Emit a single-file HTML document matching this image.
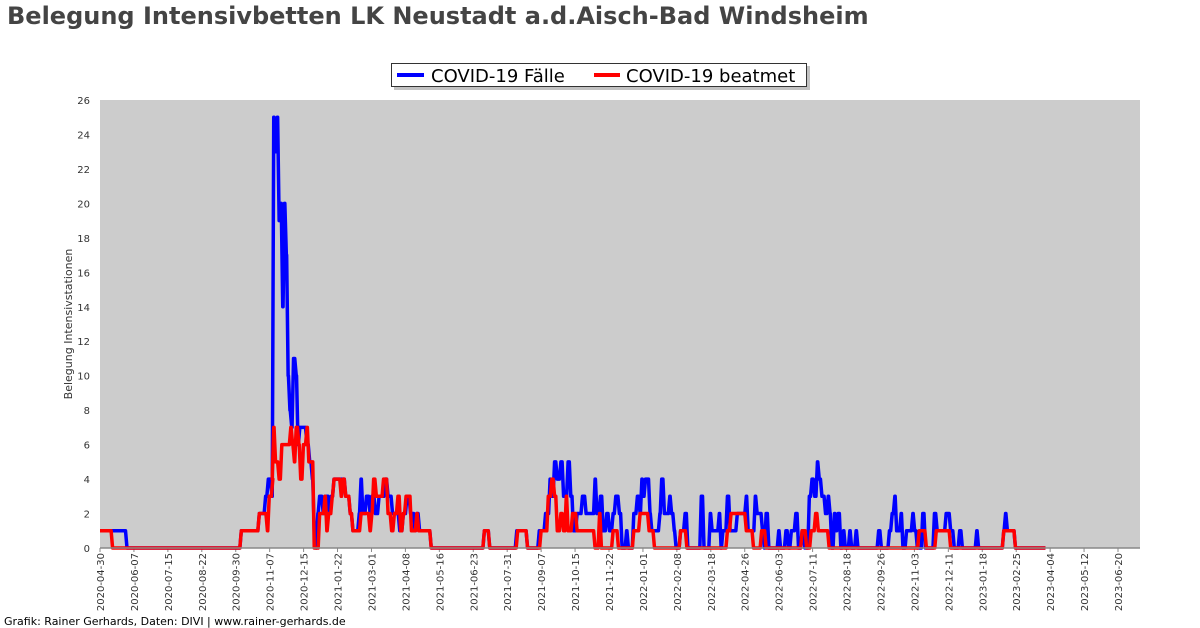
<!DOCTYPE html>
<html><head><meta charset="utf-8"><style>
body{margin:0;background:#fff;font-family:"Liberation Sans","DejaVu Sans",sans-serif}
#wrap{position:relative;width:1200px;height:628px;overflow:hidden}
</style></head><body><div id="wrap">
<svg id="chart" width="1200" height="628" xmlns="http://www.w3.org/2000/svg">
<text x="7" y="24" font-size="24" font-weight="bold" fill="#444" font-family="DejaVu Sans, Liberation Sans, sans-serif">Belegung Intensivbetten LK Neustadt a.d.Aisch-Bad Windsheim</text>
<rect x="100" y="100" width="1040" height="448" fill="#cccccc"/>
<g id="yaxis"></g>
<g id="xaxis"></g>
<g id="series"></g>
<line x1="100" y1="548" x2="1140" y2="548" stroke="#888" stroke-width="1.5"/>
<text transform="translate(72,324) rotate(-90)" text-anchor="middle" font-size="11" fill="#333" font-family="DejaVu Sans, sans-serif">Belegung Intensivstationen</text>
<g>
<rect x="394" y="66" width="416" height="24" fill="#999" opacity="0.6"/>
<rect x="391.5" y="63.5" width="415" height="23" fill="#fff" stroke="#333"/>
<line x1="397" y1="75" x2="424" y2="75" stroke="#0000ff" stroke-width="4"/>
<text x="431" y="82" font-size="18" fill="#000" font-family="DejaVu Sans, sans-serif">COVID-19 Fälle</text>
<line x1="594" y1="75" x2="620" y2="75" stroke="#ff0000" stroke-width="4"/>
<text x="626" y="82" font-size="18" fill="#000" font-family="DejaVu Sans, sans-serif">COVID-19 beatmet</text>
</g>
<text x="4" y="625" font-size="11" fill="#000" font-family="DejaVu Sans, sans-serif">Grafik: Rainer Gerhards, Daten: DIVI | www.rainer-gerhards.de</text>
</svg></div>
<script>
const tickLabels=["2020-04-30","2020-06-07","2020-07-15","2020-08-22","2020-09-30","2020-11-07","2020-12-15","2021-01-22","2021-03-01","2021-04-08","2021-05-16","2021-06-23","2021-07-31","2021-09-07","2021-10-15","2021-11-22","2022-01-01","2022-02-08","2022-03-18","2022-04-26","2022-06-03","2022-07-11","2022-08-18","2022-09-26","2022-11-03","2022-12-11","2023-01-18","2023-02-25","2023-04-04","2023-05-12","2023-06-20"];
const yTicks=[0,2,4,6,8,10,12,14,16,18,20,22,24,26];
// change points: pixel-estimated day offsets from 2020-04-30 and values
const casesPx=[100,130,257,277,284,287,291,293,295,297,299,301,303,305,307,309,311,313,315,318,320,322,326,330,333,336,338,340,342,344,348,350,355,357,360,370,373,378,381,388,390,392,396,400,402,406,410,417,420,425,433,437,441,445,450,452,455,468,527,533,563,575,588,595,600,602,605,608,612,615,620,623,626,630,636,640,645,650,652,656,659,663,666,670,673,677,680,685,687,693,697,700,702,704,706,711,713,722,724,727,733,735,738,740,745,750,753,768,771,778,780,788,790,792,797,800,808,818,820,828,830,836,838,840,843,854,856,862,865,868,873,876,880,883,888,891,894,897,899,902,906,909,911,913,916,918,920,923,926,928,933,935,940,942,965,968,977,980,983,985,990,992,996,1003,1005,1008,1014,1017,1027,1030,1040,1045,1049,1055,1058,1074,1076,1104,1106,1108,1117];
const casesVal=[1,0,1,2,3,4,3,25,23,25,19,20,14,20,17,10,8,7,11,10,6,7,7,6,5,4,1,0,2,3,2,3,2,3,4,4,3,2,1,2,4,2,3,2,3,2,3,4,3,2,1,2,3,2,1,2,1,0,1,0,1,0,1,2,4,3,5,4,5,3,5,3,1,2,3,2,2,4,2,3,1,2,1,2,3,2,0,1,0,2,3,2,4,3,4,2,1,2,4,2,3,2,1,0,1,2,0,3,0,2,1,2,0,1,3,1,2,3,1,3,2,1,0,2,0,1,0,1,0,1,2,0,1,0,3,4,3,5,4,3,2,3,2,0,2,1,2,0,1,0,1,0,1,0,1,0,1,2,3,1,2,0,1,2,1,0,2,0,2,1,2,1,0,1,0,1,0,1,2,1,0];
const ventPx=[100,114,257,277,286,288,292,293,295,299,302,312,314,316,318,321,323,326,330,332,338,344,350,352,354,358,360,368,370,373,378,381,390,400,402,404,407,415,420,424,427,431,434,437,440,446,452,454,468,527,533,564,575,590,598,602,605,608,612,615,618,620,625,630,650,655,657,670,676,693,700,710,716,745,752,797,801,818,826,835,840,880,885,890,895,898,910,1010,1018,1029,1045,1104,1117];
const ventVal=[1,0,1,2,1,3,4,7,5,4,6,7,6,5,7,6,4,6,7,5,0,2,3,1,2,3,4,3,4,3,2,1,2,1,2,4,3,4,2,1,2,3,1,2,3,1,2,1,0,1,0,1,0,1,3,4,3,1,2,1,3,1,2,1,0,2,0,1,0,1,2,1,0,1,0,1,2,1,0,1,0,1,0,1,2,1,0,1,0,1,0,1,0];
const NS="http://www.w3.org/2000/svg";
const X0=100,X1=1140,Y0=548,Y1=100,tickStep=38,tickSpan=1018;
const pxPerDay=tickSpan/((tickLabels.length-1)*tickStep);
function xScale(day){return X0+day*pxPerDay;}
function yScale(v){return Y0-(v/26)*(Y0-Y1);}
function mk(tag,attrs,parent){const e=document.createElementNS(NS,tag);for(const k in attrs)e.setAttribute(k,attrs[k]);parent.appendChild(e);return e;}
const ya=document.getElementById('yaxis');
yTicks.forEach(v=>{
 const t=mk('text',{x:90,y:yScale(v)+4,'text-anchor':'end','font-size':10,fill:'#333','font-family':'DejaVu Sans, sans-serif'},ya);
 
 
 t.textContent=v;
});
const xa=document.getElementById('xaxis');
tickLabels.forEach((l,i)=>{
 const x=xScale(i*tickStep);
 const tk=mk('line',{x1:x,y1:548,x2:x,y2:552,stroke:'#888'},xa);
 
 
 const t=mk('text',{transform:`translate(${x+4},553) rotate(-90)`,'text-anchor':'end','font-size':10,fill:'#333','font-family':'DejaVu Sans, sans-serif'},xa);
 
 
 t.textContent=l;
});
function pathFor(pxs,vals){
 let d='';
 for(let i=0;i<pxs.length;i++){
  const day=(pxs[i]-100)/0.992;
  const x=xScale(day);
  if(i===0){d+=`M${x},${yScale(vals[i])}`;continue;}
  d+=`L${x-1.5},${yScale(vals[i-1])}L${x},${yScale(vals[i])}`;
 }
 const lastDay=(pxs[pxs.length-1]-100)/0.992;
 d+=`L${Math.min(X1,xScale(lastDay)+30)},${yScale(vals[vals.length-1])}`;
 return d;
}
const sg=document.getElementById('series');
const p1=mk('path',{d:pathFor(casesPx,casesVal),fill:'none',stroke:'#0000ff','stroke-width':3.5,'stroke-linejoin':'round'},sg);


const p2=mk('path',{d:pathFor(ventPx,ventVal),fill:'none',stroke:'#ff0000','stroke-width':3.5,'stroke-linejoin':'round'},sg);


</script></body></html>
